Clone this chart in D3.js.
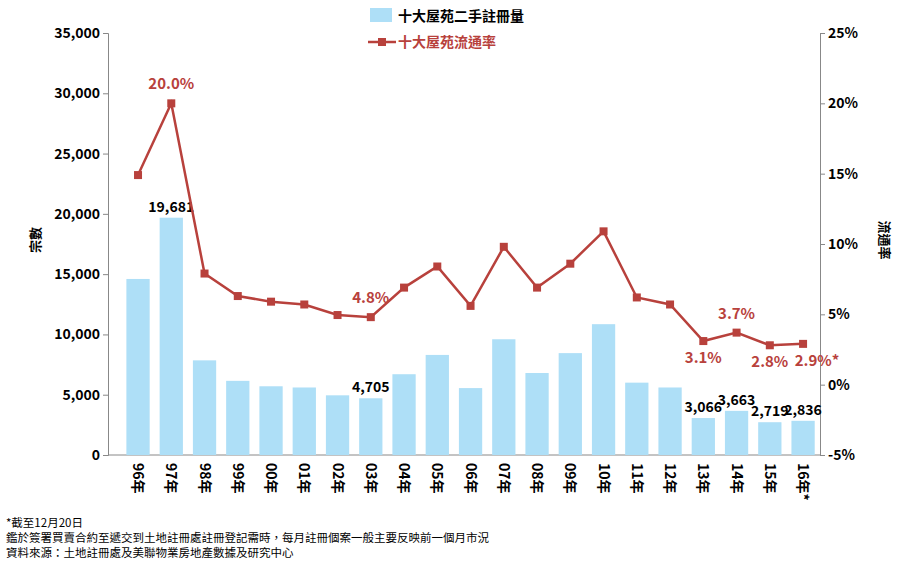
<!DOCTYPE html>
<html><head><meta charset="utf-8">
<script src="https://cdn.jsdelivr.net/npm/d3@7"></script>
<style>
body{margin:0;background:#fff;font-family:"Noto Sans CJK TC","Noto Sans",sans-serif}
text{font-family:"Noto Sans CJK TC",Verdana,"DejaVu Sans",sans-serif}
</style></head><body>
<svg id="c" width="908" height="566"></svg>
<script>
const years = ["96年","97年","98年","99年","00年","01年","02年","03年","04年","05年","06年","07年","08年","09年","10年","11年","12年","13年","14年","15年","16年*"];
const volumes = [14600,19681,7850,6150,5700,5600,4950,4705,6700,8300,5550,9600,6800,8450,10850,6000,5600,3066,3663,2719,2836];
const rates = [14.9,20.0,7.9,6.3,5.9,5.7,4.95,4.8,6.9,8.4,5.6,9.8,6.9,8.6,10.9,6.2,5.7,3.1,3.7,2.8,2.9];
const volLabels = {1:"19,681",7:"4,705",17:"3,066",18:"3,663",19:"2,719",20:"2,836"};
const rateLabels = {1:["20.0%",-14],7:["4.8%",-14],17:["3.1%",22],18:["3.7%",-14],19:["2.8%",22],20:["2.9%*",22]};
const leftTicks = [0,5000,10000,15000,20000,25000,30000,35000];
const rightTicks = [-5,0,5,10,15,20,25];
const notes = ["*截至12月20日","鑑於簽署買賣合約至遞交到土地註冊處註冊登記需時，每月註冊個案一般主要反映前一個月市況","資料來源：土地註冊處及美聯物業房地產數據及研究中心"];

const svg = d3.select("#c");
const m = {left:108, right:820, top:33, bottom:455};
const x = d3.scaleBand().domain(years).range([121.4,819.7]).paddingInner(0.3).paddingOuter(0.15);
const yL = d3.scaleLinear().domain([0,35000]).range([m.bottom,m.top]);
const yR = d3.scaleLinear().domain([-5,25]).range([m.bottom,m.top]);
const red = "#b8413c", blue = "#aedff7";

// axes
const ax = svg.append("g").attr("transform",`translate(${m.left},0)`)
  .call(d3.axisLeft(yL).tickValues(leftTicks).tickFormat(d3.format(",")).tickSize(5));
const ar = svg.append("g").attr("transform",`translate(${m.right},0)`)
  .call(d3.axisRight(yR).tickValues(rightTicks).tickFormat(d=>d+"%").tickSize(5));
const ab = svg.append("g").attr("transform",`translate(0,${m.bottom})`)
  .call(d3.axisBottom(x).tickSize(0));
ab.select(".domain").remove();
svg.append("line").attr("x1",m.left).attr("x2",m.right).attr("y1",m.bottom).attr("y2",m.bottom).attr("stroke","#888");
[ax,ar,ab].forEach(g=>{g.select(".domain").attr("stroke","#888");g.selectAll("line").attr("stroke","#888");
  g.selectAll("text").attr("font-size",14).attr("font-weight","bold").attr("fill","#000");});
ab.selectAll("text").attr("transform","rotate(90)").attr("text-anchor","start").attr("x",8).attr("y",0).attr("dy","0.35em");

// bars
svg.append("g").selectAll("rect").data(volumes).join("rect")
  .attr("x",(d,i)=>x(years[i])).attr("width",x.bandwidth())
  .attr("y",d=>yL(d)).attr("height",d=>m.bottom-yL(d)).attr("fill",blue);
svg.append("g").selectAll("text").data(Object.keys(volLabels)).join("text")
  .attr("x",i=>x(years[i])+x.bandwidth()/2).attr("y",i=>yL(volumes[i])-6)
  .attr("text-anchor","middle").attr("font-size",14).attr("font-weight","bold").text(i=>volLabels[i]);

// line
const line = d3.line().x((d,i)=>x(years[i])+x.bandwidth()/2).y(d=>yR(d));
svg.append("path").datum(rates).attr("d",line).attr("fill","none").attr("stroke",red).attr("stroke-width",2.5);
svg.append("g").selectAll("rect").data(rates).join("rect")
  .attr("x",(d,i)=>x(years[i])+x.bandwidth()/2-4).attr("y",d=>yR(d)-4).attr("width",8).attr("height",8).attr("fill",red);
svg.append("g").selectAll("text").data(Object.keys(rateLabels)).join("text")
  .attr("x",i=>x(years[i])+x.bandwidth()/2+(i==20?14:0)).attr("y",i=>yR(rates[i])+rateLabels[i][1])
  .attr("text-anchor","middle").attr("font-size",15).attr("font-weight","bold").attr("fill",red).text(i=>rateLabels[i][0]);

// axis titles
svg.append("text").attr("transform","translate(40,240) rotate(-90)").attr("text-anchor","middle").attr("font-size",13).attr("font-weight","bold").text("宗數");
svg.append("text").attr("transform","translate(880,240) rotate(90)").attr("text-anchor","middle").attr("font-size",13).attr("font-weight","bold").text("流通率");

// legend
const lg = svg.append("g");
lg.append("rect").attr("x",370).attr("y",8).attr("width",22).attr("height",14).attr("fill",blue);
lg.append("text").attr("x",398).attr("y",21).attr("font-size",14).attr("font-weight","bold").text("十大屋苑二手註冊量");
lg.append("line").attr("x1",368).attr("x2",396).attr("y1",42).attr("y2",42).attr("stroke",red).attr("stroke-width",2.5);
lg.append("rect").attr("x",378).attr("y",38).attr("width",8).attr("height",8).attr("fill",red);
lg.append("text").attr("x",398).attr("y",47).attr("font-size",14).attr("font-weight","bold").attr("fill",red).text("十大屋苑流通率");

// notes
svg.append("g").selectAll("text").data(notes).join("text")
  .attr("x",6).attr("y",(d,i)=>527+i*15).attr("font-size",11.5).text(d=>d);
</script></body></html>
